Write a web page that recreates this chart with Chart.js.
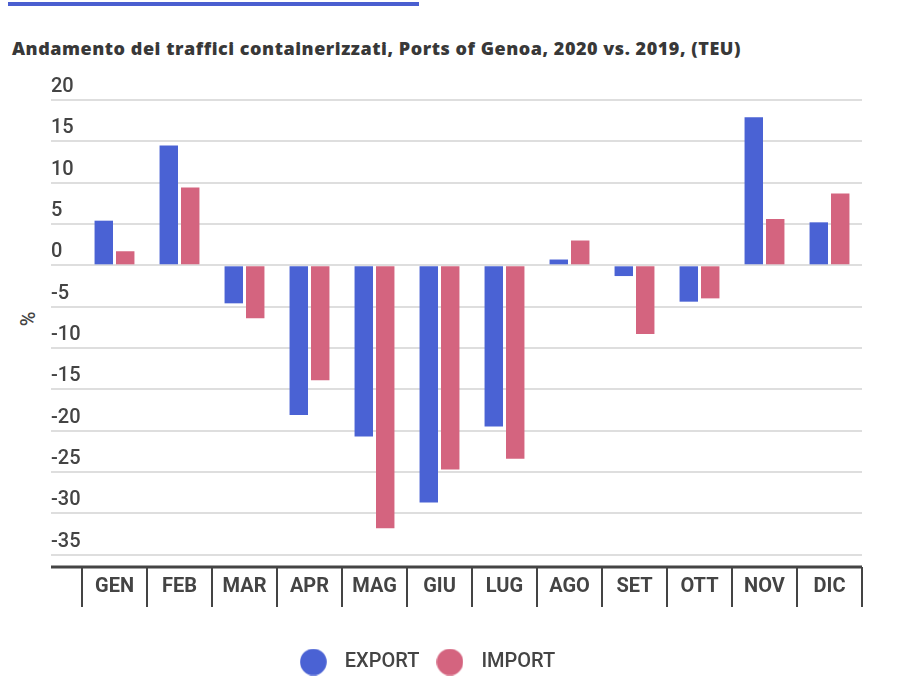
<!DOCTYPE html>
<html lang="it">
<head>
  <meta charset="UTF-8" />
  <title>Ports of Genoa 2020 vs 2019</title>
  <script src="https://cdn.jsdelivr.net/npm/chart.js"></script>
  <style>
    body { margin: 0; background: #fff; width: 908px; height: 695px; position: relative; overflow: hidden; }
    .topbar { position: absolute; left: 8px; top: 2px; width: 411px; height: 4px; background: #4a5fd0; }
    h1 { position: absolute; left: 12px; top: 36px; margin: 0; font: 800 18px 'Open Sans', sans-serif; letter-spacing: 0.53px; color: #383838; white-space: nowrap; }
    .ylab { position: absolute; left: 28px; top: 319px; transform: translate(-50%, -50%) rotate(-90deg); font: 500 20px Roboto, sans-serif; color: #444; }
    #chart { position: absolute; left: 0; top: 0; }
  </style>
</head>
<body>
  <div class="topbar"></div>
  <h1>Andamento dei traffici containerizzati, Ports of Genoa, 2020 vs. 2019, (TEU)</h1>
  <div class="ylab">%</div>
  <canvas id="chart" width="908" height="695"></canvas>

  <script>
    // data (% change 2020 vs 2019)
    const months = ['GEN', 'FEB', 'MAR', 'APR', 'MAG', 'GIU', 'LUG', 'AGO', 'SET', 'OTT', 'NOV', 'DIC'];
    const exportPct = [5.4, 14.5, -4.6, -18.1, -20.7, -28.7, -19.5, 0.7, -1.3, -4.4, 17.9, 5.2];
    const importPct = [1.7, 9.4, -6.4, -13.9, -31.8, -24.7, -23.4, 3.0, -8.3, -4.0, 5.6, 8.7];
    const seriesNames = ['EXPORT', 'IMPORT'];
    const yMin = -36.5;
    const yMax = 20;

    const BLUE = '#4a62d4';
    const PINK = '#d4647f';
    const INK = '#444';

    // round dots for the legend
    function dot(color) {
      const c = document.createElement('canvas');
      c.width = 27; c.height = 27;
      const g = c.getContext('2d');
      g.fillStyle = color;
      g.beginPath();
      g.arc(13.5, 13.5, 13.3, 0, Math.PI * 2);
      g.fill();
      return c;
    }
    const dots = [dot(BLUE), dot(PINK)];

    // dark baseline under the plot, running under the y labels too
    const baseLine = {
      id: 'baseLine',
      afterDraw(chart) {
        const { ctx, chartArea } = chart;
        ctx.save();
        ctx.strokeStyle = INK;
        ctx.lineWidth = 3;
        ctx.beginPath();
        ctx.moveTo(chart.scales.y.left, chartArea.bottom);
        ctx.lineTo(chartArea.right, chartArea.bottom);
        ctx.stroke();
        ctx.restore();
      }
    };

    // legend sits a bit left of the plot centre
    const legendShift = {
      id: 'legendShift',
      afterLayout(chart) {
        chart.legend.left -= 33;
        chart.legend.right -= 33;
      }
    };

    new Chart(document.getElementById('chart'), {
      type: 'bar',
      data: {
        labels: months,
        datasets: [
          { label: seriesNames[0], data: exportPct, backgroundColor: BLUE },
          { label: seriesNames[1], data: importPct, backgroundColor: PINK }
        ]
      },
      options: {
        responsive: false,
        animation: false,
        devicePixelRatio: 1,
        categoryPercentage: 0.66,
        barPercentage: 0.86,
        layout: { padding: { left: 51, right: 46, top: 100, bottom: 13 } },
        plugins: {
          title: { display: false },
          tooltip: { enabled: false },
          legend: {
            position: 'bottom',
            labels: {
              usePointStyle: true,
              pointStyleWidth: 43,
              boxHeight: 19,
              padding: 9,
              color: INK,
              font: { family: 'Roboto', size: 20, weight: '500' },
              generateLabels: (chart) =>
                Chart.defaults.plugins.legend.labels.generateLabels(chart)
                  .map((item, i) => ({ ...item, pointStyle: dots[i] }))
            }
          }
        },
        scales: {
          x: {
            grid: {
              offset: true,
              drawOnChartArea: false,
              drawTicks: true,
              tickLength: 40,
              color: INK,
              lineWidth: 2
            },
            border: { display: false },
            ticks: {
              padding: -32,
              color: INK,
              font: { family: 'Roboto', size: 20, weight: 'bold' }
            },
            afterFit: (scale) => { scale.height = 76; }
          },
          y: {
            min: yMin,
            max: yMax,
            grid: { color: '#dedede', lineWidth: 2, tickLength: 31 },
            border: { display: false },
            ticks: {
              stepSize: 5,
              includeBounds: false,
              crossAlign: 'far',
              labelOffset: -13,
              color: INK,
              font: { family: 'Roboto', size: 20, weight: '500' }
            },
            afterFit: (scale) => { scale.width = 31; }
          }
        }
      },
      plugins: [baseLine, legendShift]
    });
  </script>
</body>
</html>
